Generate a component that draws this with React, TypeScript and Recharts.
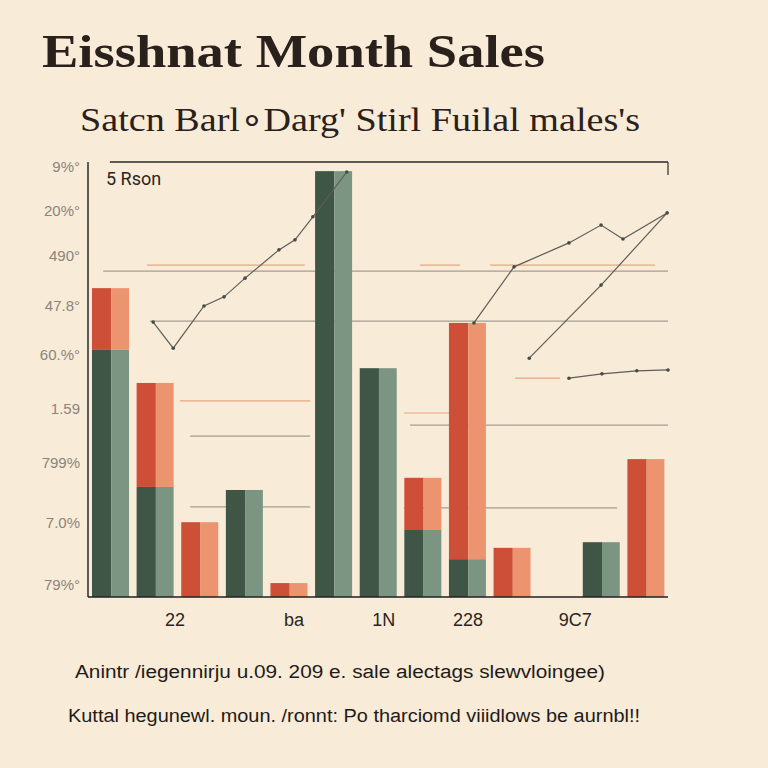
import {
  ComposedChart,
  Bar,
  Line,
  XAxis,
  YAxis,
  ReferenceLine,
} from "recharts";

const slots = ["s0", "s1", "s2", "s3", "s4", "s5", "s6", "s7", "s8", "s9", "s10", "s11", "s12"];
const greenValues = [56.8, 25.3, 0, 24.6, 0, 97.9, 52.6, 15.4, 8.7, 0, 0, 12.6, 0];
const redValues = [14.2, 23.9, 17.2, 0, 3.2, 0, 0, 12.0, 54.3, 11.3, 0, 0, 31.7];

const leftTicks = [98.9, 88.7, 78.4, 66.9, 55.6, 43.2, 30.8, 17.2, 2.8];
const leftLabels = ["9%°", "20%°", "490°", "47.8°", "60.%°", "1.59", "799%", "7.0%", "79%°"];
const rightTicks = [98.2, 87.6, 73.1, 61.6, 51.7, 40.2, 28.7, 17.2, 3.2];
const rightLabels = ["2850%", "157.577", "160604", "97572", "144674", "1829 0", "30.0%", "2.49 0", "95944"];
const xTicks = [1.95, 4.62, 6.63, 8.52, 10.92];
const xLabels = ["22", "ba", "1N", "228", "9C7"];

const lineOne = [
  { x: 1.46, y: 63.2 },
  { x: 1.91, y: 57.2 },
  { x: 2.6, y: 66.9 },
  { x: 3.05, y: 69.0 },
  { x: 3.52, y: 73.3 },
  { x: 4.28, y: 79.8 },
  { x: 4.64, y: 82.1 },
  { x: 5.04, y: 87.4 },
  { x: 5.8, y: 97.7 },
];
const lineTwo = [
  { x: 8.65, y: 63.0 },
  { x: 9.55, y: 75.9 },
  { x: 10.78, y: 81.4 },
  { x: 11.5, y: 85.5 },
  { x: 11.99, y: 82.3 },
  { x: 12.98, y: 88.3 },
  { x: 11.5, y: 71.7 },
  { x: 9.89, y: 54.9 },
];
const lineThree = [
  { x: 10.78, y: 50.3 },
  { x: 11.52, y: 51.3 },
  { x: 12.3, y: 52.0 },
  { x: 13.0, y: 52.2 },
];

// partial guide lines: [y, x from, x to]
const greyGuides = [
  [74.9, 0.34, 13],
  [63.4, 1.39, 13],
  [37.0, 2.29, 4.98],
  [39.5, 7.22, 13],
  [20.7, 2.29, 4.98],
  [20.5, 7.08, 11.86],
];
const orangeGuides = [
  [76.3, 1.32, 4.86],
  [76.3, 7.44, 8.34],
  [76.3, 9.01, 12.71],
  [45.1, 2.06, 4.98],
  [42.3, 7.08, 8.34],
  [50.3, 9.57, 10.58],
];

const data = slots.map((s, i) => ({
  slot: s,
  green: greenValues[i],
  red: redValues[i],
}));

const twoTone = (dark: string, light: string) => (props: any) => {
  const { x, y, width, height } = props;
  if (!height || height <= 0) return <g />;
  const split = width * 0.52;
  return (
    <g>
      <rect x={x} y={y} width={split} height={height} fill={dark} />
      <rect x={x + split} y={y} width={width - split} height={height} fill={light} />
    </g>
  );
};

const tickFont = { fontFamily: "Liberation Sans, sans-serif" };

export default function App() {
  return (
    <div
      style={{
        position: "absolute",
        top: 0,
        left: 0,
        width: 768,
        height: 768,
        background: "#f8ebd8",
      }}
    >
      <ComposedChart
        width={768}
        height={768}
        data={data}
        margin={{ top: 162, right: 0, bottom: 141, left: 28 }}
        barCategoryGap="9%"
      >
        <XAxis xAxisId="cat" dataKey="slot" hide height={0} />
        <XAxis
          xAxisId="num"
          dataKey="x"
          type="number"
          domain={[0, 13]}
          ticks={xTicks}
          interval={0}
          height={30}
          tickFormatter={(_v: number, i: number) => xLabels[i]}
          tick={{ ...tickFont, fontSize: 18, fill: "#2a2522" }}
          axisLine={{ stroke: "#222", strokeWidth: 1.5 }}
          tickLine={false}
          tickMargin={10}
        />
        <YAxis
          yAxisId="left"
          domain={[0, 100]}
          ticks={leftTicks}
          interval={0}
          width={60}
          tickFormatter={(_v: number, i: number) => leftLabels[i]}
          tick={{ ...tickFont, fontSize: 15, fill: "#8a857c" }}
          axisLine={{ stroke: "#2b2b2b", strokeWidth: 1.5 }}
          tickLine={false}
        />
        <YAxis
          yAxisId="right"
          orientation="right"
          domain={[0, 100]}
          ticks={rightTicks}
          interval={0}
          width={100}
          tickFormatter={(_v: number, i: number) => rightLabels[i]}
          tick={{ ...tickFont, fontSize: 17, fill: "#6d6a64", textAnchor: "start" }}
          axisLine={false}
          tickLine={{ stroke: "#777" }}
          tickSize={4}
        />

        {greyGuides.map((g, i) => (
          <ReferenceLine
            key={"g" + i}
            xAxisId="num"
            yAxisId="left"
            zIndex={50}
            segment={[
              { x: g[1], y: g[0] },
              { x: g[2], y: g[0] },
            ]}
            stroke="#a59e90"
            strokeWidth={1.2}
          />
        ))}
        {orangeGuides.map((g, i) => (
          <ReferenceLine
            key={"o" + i}
            xAxisId="num"
            yAxisId="left"
            zIndex={50}
            segment={[
              { x: g[1], y: g[0] },
              { x: g[2], y: g[0] },
            ]}
            stroke="#eba57c"
            strokeWidth={1.2}
          />
        ))}
        <ReferenceLine
          xAxisId="num"
          yAxisId="left"
          segment={[
            { x: 0.49, y: 100 },
            { x: 13, y: 100 },
          ]}
          stroke="#2b2b2b"
          strokeWidth={1.5}
        />
        <ReferenceLine
          xAxisId="num"
          yAxisId="left"
          segment={[
            { x: 13, y: 100 },
            { x: 13, y: 97 },
          ]}
          stroke="#2b2b2b"
          strokeWidth={1.2}
        />

        <Bar
          xAxisId="cat"
          yAxisId="left"
          dataKey="green"
          stackId="a"
          isAnimationActive={false}
          shape={twoTone("#3f5546", "#7b9582")}
        />
        <Bar
          xAxisId="cat"
          yAxisId="left"
          dataKey="red"
          stackId="a"
          isAnimationActive={false}
          shape={twoTone("#cd4f38", "#ec9470")}
        />

        <Line
          xAxisId="num"
          yAxisId="left"
          data={lineOne}
          dataKey="y"
          type="linear"
          stroke="#5e5e58"
          strokeWidth={1.2}
          dot={{ r: 1.8, fill: "#4a4a44", stroke: "none" }}
          isAnimationActive={false}
        />
        <Line
          xAxisId="num"
          yAxisId="left"
          data={lineTwo}
          dataKey="y"
          type="linear"
          stroke="#5e5e58"
          strokeWidth={1.2}
          dot={{ r: 1.8, fill: "#4a4a44", stroke: "none" }}
          isAnimationActive={false}
        />
        <Line
          xAxisId="num"
          yAxisId="left"
          data={lineThree}
          dataKey="y"
          type="linear"
          stroke="#5e5e58"
          strokeWidth={1.2}
          dot={{ r: 1.8, fill: "#4a4a44", stroke: "none" }}
          isAnimationActive={false}
        />
      </ComposedChart>

      <svg
        width={768}
        height={768}
        style={{ position: "absolute", top: 0, left: 0, pointerEvents: "none" }}
      >
        <text
          x={42}
          y={67}
          fontFamily="Liberation Serif, serif"
          fontWeight="bold"
          fontSize={46}
          fill="#2a201c"
          textLength={503}
          lengthAdjust="spacingAndGlyphs"
        >
          Eisshnat Month Sales
        </text>
        <text
          x={80}
          y={131}
          fontFamily="Liberation Serif, serif"
          fontSize={34}
          fill="#2a201c"
          textLength={560}
          lengthAdjust="spacingAndGlyphs"
        >
          Satcn Barl∘Darg' Stirl Fuilal males's
        </text>
        <text x={106} y={185} fontFamily="Roboto, sans-serif" fontSize={18} fill="#2a2522">
          5 Rson
        </text>
        <text
          x={75}
          y={678}
          fontFamily="Liberation Sans, sans-serif"
          fontSize={18}
          fill="#1f1b18"
          textLength={530}
          lengthAdjust="spacingAndGlyphs"
        >
          Anintr /iegennirju u.09. 209 e. sale alectags slewvloingee)
        </text>
        <text
          x={68}
          y={722}
          fontFamily="Liberation Sans, sans-serif"
          fontSize={18}
          fill="#1f1b18"
          textLength={572}
          lengthAdjust="spacingAndGlyphs"
        >
          Kuttal hegunewl.  moun. /ronnt: Po tharciomd viiidlows be aurnbl!!
        </text>
      </svg>
    </div>
  );
}
